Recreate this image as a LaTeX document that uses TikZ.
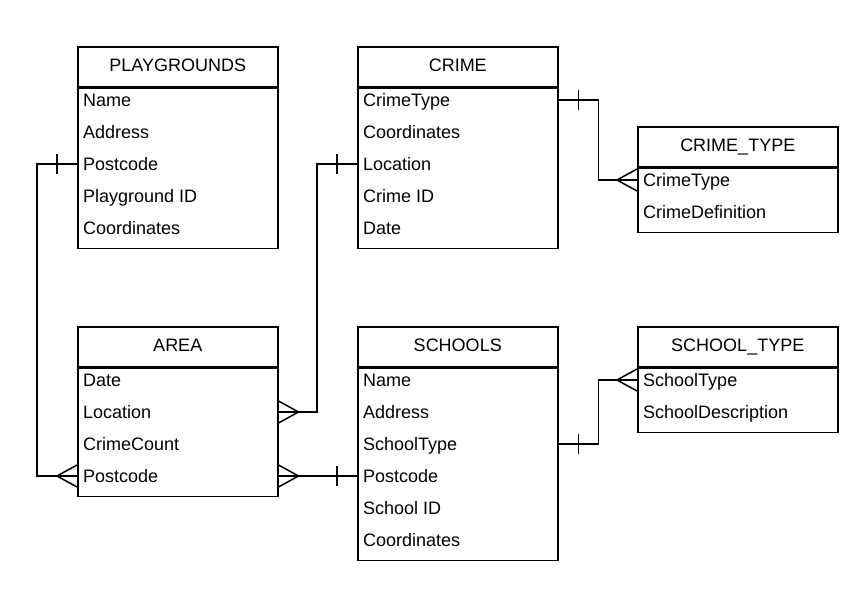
\documentclass[tikz,border=0pt]{standalone}
\usepackage{fontspec}
\setmainfont{Liberation Sans}
\usetikzlibrary{positioning}

\begin{document}
\begin{tikzpicture}[x=1pt,y=-1pt]
	\tikzstyle{header} = [draw=black, line width=1.5pt, minimum width=200pt, minimum height=40pt, anchor=north west, inner sep=0pt, text height=13pt, text depth=4pt, font=\fontsize{18}{21}\selectfont]
	\tikzstyle{body} = [draw=black, line width=1.5pt, minimum width=200pt, anchor=north, inner sep=0pt]
	\tikzstyle{field} = [anchor=base west, inner sep=0pt, font=\fontsize{18}{21}\selectfont]
	\tikzstyle{link} = [draw=black, line width=1.5pt]
	\useasboundingbox (0,0) rectangle (858,606);
	% PLAYGROUNDS
	\node[header] (pg) at (77,46) {PLAYGROUNDS};
	\node[body, minimum height=160pt] (pg-body) at (pg.south) {};
	\node[field] (pg-name) at (83,106.5) {Name};
	\node[field] (pg-address) at (83,138.5) {Address};
	\node[field] (pg-postcode) at (83,170.5) {Postcode};
	\node[field] (pg-id) at (83,202.5) {Playground ID};
	\node[field] (pg-coord) at (83,234.5) {Coordinates};
	% CRIME
	\node[header] (cr) at (357,46) {CRIME};
	\node[body, minimum height=160pt] (cr-body) at (cr.south) {};
	\node[field] (cr-crimetype) at (363,106.5) {CrimeType};
	\node[field] (cr-coord) at (363,138.5) {Coordinates};
	\node[field] (cr-location) at (363,170.5) {Location};
	\node[field] (cr-id) at (363,202.5) {Crime ID};
	\node[field] (cr-date) at (363,234.5) {Date};
	% CRIME_TYPE
	\node[header] (ct) at (637,126) {CRIME\_TYPE};
	\node[body, minimum height=64pt] (ct-body) at (ct.south) {};
	\node[field] (ct-crimetype) at (643,186.5) {CrimeType};
	\node[field] (ct-def) at (643,218.5) {CrimeDefinition};
	% AREA
	\node[header] (area) at (77,326) {AREA};
	\node[body, minimum height=128pt] (area-body) at (area.south) {};
	\node[field] (area-date) at (83,386.5) {Date};
	\node[field] (area-location) at (83,418.5) {Location};
	\node[field] (area-count) at (83,450.5) {CrimeCount};
	\node[field] (area-postcode) at (83,482.5) {Postcode};
	% SCHOOLS
	\node[header] (sc) at (357,326) {SCHOOLS};
	\node[body, minimum height=192pt] (sc-body) at (sc.south) {};
	\node[field] (sc-name) at (363,386.5) {Name};
	\node[field] (sc-address) at (363,418.5) {Address};
	\node[field] (sc-schooltype) at (363,450.5) {SchoolType};
	\node[field] (sc-postcode) at (363,482.5) {Postcode};
	\node[field] (sc-id) at (363,514.5) {School ID};
	\node[field] (sc-coord) at (363,546.5) {Coordinates};
	% SCHOOL_TYPE
	\node[header] (st) at (637,326) {SCHOOL\_TYPE};
	\node[body, minimum height=64pt] (st-body) at (st.south) {};
	\node[field] (st-schooltype) at (643,386.5) {SchoolType};
	\node[field] (st-desc) at (643,418.5) {SchoolDescription};

	% PLAYGROUNDS -- AREA
	\draw[link] ([yshift=6.5pt]pg-postcode.base -| pg.west) -- ++(-40,0) |- ([yshift=6.5pt]area-postcode.base -| area.west);
	\draw[link] ([yshift=6.5pt]pg-postcode.base -| pg.west) ++(-20,-10) -- ++(0,20);
	\draw[link] ([yshift=6.5pt]area-postcode.base -| area.west) ++(-20,0) -- ++(20,-11) ++(-20,11) -- ++(20,11);
	% CRIME -- AREA
	\draw[link] ([yshift=6.5pt]cr-location.base -| cr.west) -- ++(-40,0) |- ([yshift=6.5pt]area-location.base -| area.east);
	\draw[link] ([yshift=6.5pt]cr-location.base -| cr.west) ++(-20,-10) -- ++(0,20);
	\draw[link] ([yshift=6.5pt]area-location.base -| area.east) ++(20,0) -- ++(-20,-11) ++(20,11) -- ++(-20,11);
	% CRIME -- CRIME_TYPE
	\draw[link] ([yshift=6.5pt]cr-crimetype.base -| cr.east) -- ++(40,0) |- ([yshift=6.5pt]ct-crimetype.base -| ct.west);
	\draw[link] ([yshift=6.5pt]cr-crimetype.base -| cr.east) ++(20,-10) -- ++(0,20);
	\draw[link] ([yshift=6.5pt]ct-crimetype.base -| ct.west) ++(-20,0) -- ++(20,-11) ++(-20,11) -- ++(20,11);
	% AREA -- SCHOOLS
	\draw[link] ([yshift=6.5pt]area-postcode.base -| area.east) -- ([yshift=6.5pt]sc-postcode.base -| sc.west);
	\draw[link] ([yshift=6.5pt]sc-postcode.base -| sc.west) ++(-20,-10) -- ++(0,20);
	\draw[link] ([yshift=6.5pt]area-postcode.base -| area.east) ++(20,0) -- ++(-20,-11) ++(20,11) -- ++(-20,11);
	% SCHOOLS -- SCHOOL_TYPE
	\draw[link] ([yshift=6.5pt]sc-schooltype.base -| sc.east) -- ++(40,0) |- ([yshift=6.5pt]st-schooltype.base -| st.west);
	\draw[link] ([yshift=6.5pt]sc-schooltype.base -| sc.east) ++(20,-10) -- ++(0,20);
	\draw[link] ([yshift=6.5pt]st-schooltype.base -| st.west) ++(-20,0) -- ++(20,-11) ++(-20,11) -- ++(20,11);
\end{tikzpicture}
\end{document}
